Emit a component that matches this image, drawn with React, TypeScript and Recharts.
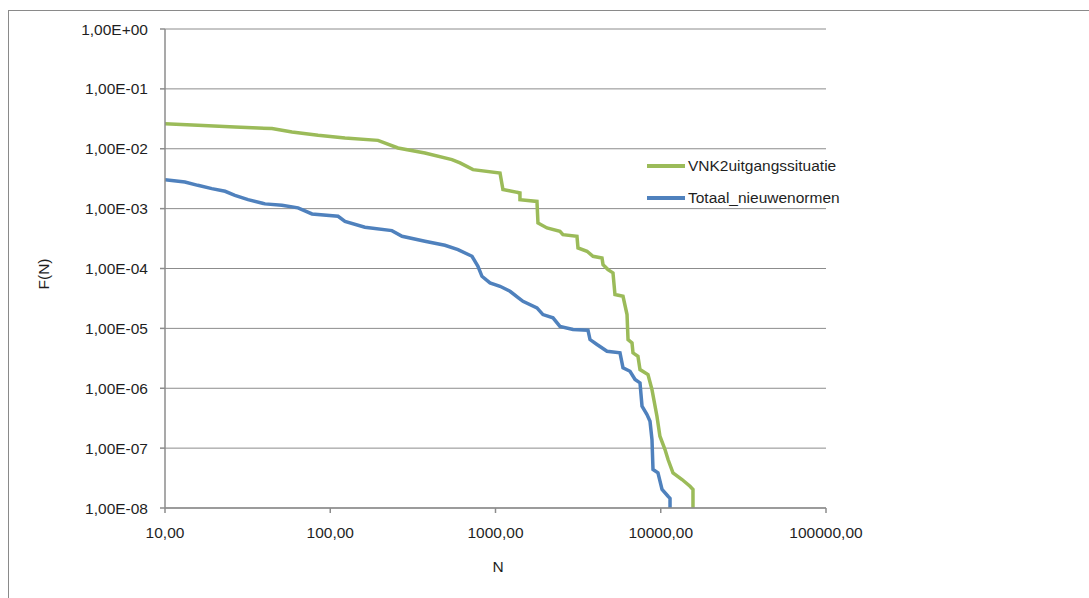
import React from 'react';
import { LineChart, Line, XAxis, YAxis, CartesianGrid, Label } from 'recharts';

const xTicks = [10, 100, 1000, 10000, 100000];
const yTicks = [1e-8, 1e-7, 1e-6, 1e-5, 1e-4, 1e-3, 1e-2, 1e-1, 1];

const seriesNames = ['VNK2uitgangssituatie', 'Totaal_nieuwenormen'];
const seriesColors = ['#9BBB59', '#4F81BD'];

const greenN = [10, 15.8, 26.5, 44.4, 58.7, 84.4, 122.8, 194.5, 257, 374, 545, 610, 731, 1065, 1109, 1406, 1406, 1782, 1807, 2049, 2455, 2560, 3112, 3156, 3578, 3892, 4410, 4474, 4794, 5140, 5284, 5910, 6251, 6339, 6700, 6793, 7278, 7489, 8371, 8850, 9484, 9886, 10610, 11070, 11860, 13450, 15030, 15670, 15670];
const greenF = [0.0262, 0.0246, 0.0231, 0.0217, 0.0191, 0.01675, 0.01514, 0.0138, 0.0103, 0.0085, 0.00658, 0.00579, 0.00448, 0.00394, 0.00208, 0.00183, 0.00141, 0.00132, 5.77e-4, 4.76e-4, 4.18e-4, 3.68e-4, 3.45e-4, 2.21e-4, 1.94e-4, 1.6e-4, 1.5e-4, 1.16e-4, 9.59e-5, 8.45e-5, 3.67e-5, 3.43e-5, 1.7e-5, 6.5e-6, 5.73e-6, 3.9e-6, 3.42e-6, 2.05e-6, 1.69e-6, 9.5e-7, 3.41e-7, 1.58e-7, 9.48e-8, 6.46e-8, 3.87e-8, 2.99e-8, 2.31e-8, 2.04e-8, 1e-8];

const blueN = [10, 13.2, 15.8, 19.2, 23.1, 26.5, 31.8, 40.3, 51, 63.8, 77.6, 111.5, 122.8, 162, 236, 272, 374, 494, 593, 721, 783, 828, 926, 1065, 1224, 1466, 1782, 1937, 2228, 2455, 2944, 3629, 3732, 4113, 4729, 5666, 5910, 6517, 6989, 7489, 7703, 8255, 8609, 8850, 8977, 9618, 10180, 11070, 11380, 11380];
const blueF = [3.05e-3, 2.79e-3, 2.45e-3, 2.16e-3, 1.95e-3, 1.67e-3, 1.41e-3, 1.2e-3, 1.135e-3, 1.03e-3, 8.16e-4, 7.44e-4, 6.14e-4, 4.88e-4, 4.29e-4, 3.45e-4, 2.85e-4, 2.44e-4, 2.07e-4, 1.6e-4, 1.09e-4, 7.41e-5, 5.75e-5, 5.05e-5, 4.16e-5, 2.83e-5, 2.2e-5, 1.7e-5, 1.5e-5, 1.08e-5, 9.55e-6, 9.29e-6, 6.5e-6, 5.37e-6, 4.15e-6, 3.9e-6, 2.19e-6, 1.92e-6, 1.4e-6, 1.23e-6, 5e-7, 3.64e-7, 2.81e-7, 1.39e-7, 4.39e-8, 3.87e-8, 2.04e-8, 1.57e-8, 1.45e-8, 1e-8];

const greenData = greenN.map((n, i) => ({ n, f: greenF[i] }));
const blueData = blueN.map((n, i) => ({ n, f: blueF[i] }));

const FONT = '"Liberation Sans", Arial, sans-serif';
const FS = 15.5;
const TEXT = '#1f1f1f';
const GRID = '#8c8c8c';

const fmtY = (v: number) => {
  const e = Math.round(Math.log10(v));
  const s = e < 0 ? '-' : '+';
  const a = Math.abs(e);
  return `1,00E${s}${a < 10 ? '0' + a : a}`;
};
const fmtX = (v: number) => `${Math.round(v)},00`;

export default function App() {
  return (
    <div
      style={{
        position: 'fixed',
        left: 8,
        top: 10,
        width: 1110,
        height: 620,
        border: '1px solid #8a8a8a',
        background: '#fff',
      }}
    >
      <LineChart
        width={1080}
        height={585}
        margin={{ top: 18, right: 263, bottom: 58, left: 0 }}
        style={{ fontFamily: FONT }}
      >
        <CartesianGrid vertical={false} stroke={GRID} strokeWidth={1} />
        <XAxis
          type="number"
          dataKey="n"
          scale="log"
          domain={[10, 100000]}
          ticks={xTicks}
          allowDataOverflow
          tickFormatter={fmtX}
          tick={{ fill: TEXT, fontSize: FS, fontFamily: FONT }}
          tickSize={5}
          tickMargin={14}
          height={30}
          stroke={GRID}
          axisLine={{ stroke: GRID, strokeWidth: 1.5 }}
          tickLine={{ stroke: GRID, strokeWidth: 1.5 }}
        >
          <Label
            content={() => (
              <text x={489} y={561} textAnchor="middle" fill={TEXT} fontSize={FS} fontFamily={FONT}>
                N
              </text>
            )}
          />
        </XAxis>
        <YAxis
          type="number"
          dataKey="f"
          scale="log"
          domain={[1e-8, 1]}
          ticks={yTicks}
          allowDataOverflow
          tickFormatter={fmtY}
          tick={{ fill: TEXT, fontSize: FS, fontFamily: FONT }}
          tickSize={5}
          tickMargin={12}
          width={156}
          stroke={GRID}
          axisLine={{ stroke: GRID, strokeWidth: 1.5 }}
          tickLine={{ stroke: GRID, strokeWidth: 1.5 }}
        >
          <Label
            content={() => (
              <text
                x={34}
                y={263}
                textAnchor="middle"
                dominantBaseline="central"
                transform="rotate(-90 34 263)"
                fill={TEXT}
                fontSize={FS}
                fontFamily={FONT}
              >
                F(N)
              </text>
            )}
          />
        </YAxis>
        <Line
          data={greenData}
          dataKey="f"
          name={seriesNames[0]}
          stroke={seriesColors[0]}
          strokeWidth={3.5}
          dot={false}
          type="linear"
          isAnimationActive={false}
        />
        <Line
          data={blueData}
          dataKey="f"
          name={seriesNames[1]}
          stroke={seriesColors[1]}
          strokeWidth={3.5}
          dot={false}
          type="linear"
          isAnimationActive={false}
        />
      </LineChart>
      <div
        style={{
          position: 'absolute',
          left: 638,
          top: 139,
          fontFamily: FONT,
          fontSize: FS,
          color: TEXT,
        }}
      >
        {seriesNames.map((name, i) => (
          <div key={name} style={{ display: 'flex', alignItems: 'center', height: 32, whiteSpace: 'nowrap' }}>
            <div style={{ width: 38, height: 4, background: seriesColors[i], marginRight: 3 }} />
            <span>{name}</span>
          </div>
        ))}
      </div>
    </div>
  );
}
